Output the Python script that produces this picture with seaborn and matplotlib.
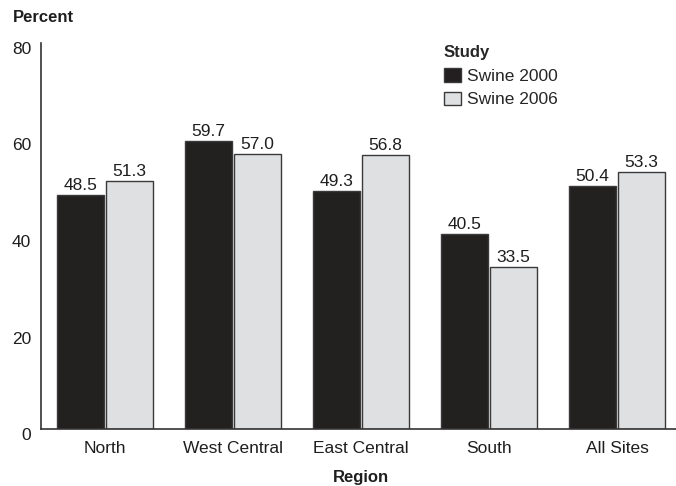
import pandas as pd
import seaborn as sns
import matplotlib
matplotlib.use("Agg")
import matplotlib.pyplot as plt
from matplotlib.patches import Patch
from matplotlib.transforms import ScaledTranslation

regions = ["North", "West Central", "East Central", "South", "All Sites"]
studies = ["Swine 2000", "Swine 2006"]
swine_2000 = [48.5, 59.7, 49.3, 40.5, 50.4]
swine_2006 = [51.3, 57.0, 56.8, 33.5, 53.3]
y_ticks = [0, 20, 40, 60, 80]

dark = "#231f20"
light = "#dfe0e2"
edge = "#3a3a3a"
txt = "#1e1e1e"
fs = 12.5

df = pd.DataFrame({
    "Region": regions * 2,
    "Study": [studies[0]] * len(regions) + [studies[1]] * len(regions),
    "Percent": swine_2000 + swine_2006,
})

sns.set_theme(style="white")
plt.rcParams["font.family"] = ["Liberation Sans", "DejaVu Sans"]

W, H = 676, 486
fig = plt.figure(figsize=(W / 100, H / 100), dpi=100)
# plot runs off the right edge, as in the cropped original
ax = fig.add_axes([41 / W, (H - 429) / H, 640 / W, 386 / H])

sns.barplot(data=df, x="Region", y="Percent", hue="Study", order=regions,
            hue_order=studies, palette=[dark, light], width=0.77, gap=0.05,
            edgecolor=edge, linewidth=1, ax=ax, legend=False)

for c in ax.containers:
    ax.bar_label(c, fmt="%.1f", padding=1.5, fontsize=fs, color=txt)

ax.set_ylim(0, 80)
ax.set_xlim(-0.5, 4.5)
ax.set_yticks(y_ticks)
ax.set_yticklabels([str(v) for v in y_ticks], fontsize=fs, color=txt)
ax.tick_params(axis="y", length=0, pad=7)
shift = ScaledTranslation(0, -0.05, fig.dpi_scale_trans)
for lab in ax.get_yticklabels():
    lab.set_transform(lab.get_transform() + shift)

ax.set_xticks(range(len(regions)))
ax.set_xticklabels(regions, fontsize=fs, color=txt)
ax.tick_params(axis="x", which="major", length=0, pad=8.5)
ax.set_xticks([0.5, 1.5, 2.5, 3.5], minor=True)
ax.tick_params(axis="x", which="minor", direction="in", length=7,
               width=1, color="#333333")

ax.set_ylabel("")
ax.set_xlabel("Region", fontsize=12, fontweight="bold", labelpad=10,
              color=txt)
sns.despine(ax=ax)
for s in ["left", "bottom"]:
    ax.spines[s].set_color("#333333")
    ax.spines[s].set_linewidth(1.2)

fig.text(13 / W, 1 - 18 / H, "Percent", fontsize=12, fontweight="bold",
         va="center", ha="left", color=txt)

handles = [Patch(facecolor=dark, edgecolor=edge, linewidth=1),
           Patch(facecolor=light, edgecolor=edge, linewidth=1)]
leg = ax.legend(handles, studies, title="Study", loc="upper left",
                bbox_to_anchor=(444 / W, 1 - 45 / H),
                bbox_transform=fig.transFigure, frameon=False,
                handlelength=1.0, handleheight=0.85, handletextpad=0.3,
                borderpad=0, borderaxespad=0, labelspacing=0.45,
                alignment="left", fontsize=fs,
                title_fontproperties={"weight": "bold", "size": 12})

fig.savefig("out.png", dpi=100)
